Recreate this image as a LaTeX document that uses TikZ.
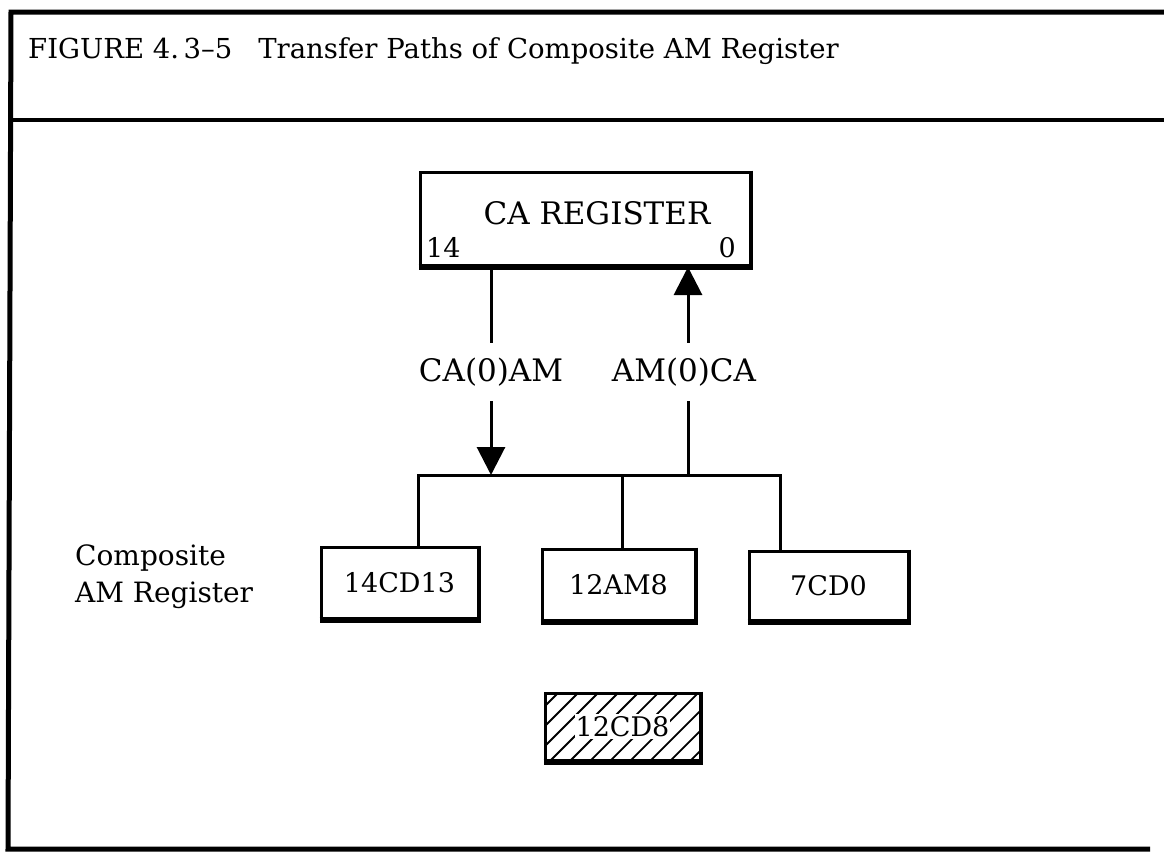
\documentclass[tikz,border=0pt]{standalone}
\usepackage{fontspec}
\setmainfont{DejaVu Serif}
\usetikzlibrary{arrows.meta,calc}
\begin{document}
\begin{tikzpicture}[x=1pt,y=-1pt,line join=miter]
\useasboundingbox (0,0) rectangle (1164,855);
\tikzset{
  regbox/.style={draw,line width=3pt,outer sep=0pt,inner sep=0pt},
  wire/.style={line width=3pt},
  arr/.style={-{Triangle[width=28pt,length=28pt]}},
  txt/.style={font=\fontsize{27}{30}\selectfont,inner sep=0pt},
  bigtxt/.style={font=\fontsize{31}{34}\selectfont,inner sep=0pt},
  hatch/.style={line width=1.8pt},
}
% frame
\draw[line width=5pt] (1164,12) -- (11,12) -- (8,849) -- (1150,849);
\draw[line width=4pt] (10,120) -- (1164,120);
% title
\node[txt,anchor=west,font=\fontsize{27.5}{30}\selectfont] (title) at (28,51) {FIGURE 4.\,3–5\hspace{26pt}Transfer Paths of Composite AM Register};
% CA register
\node[regbox,minimum width=330pt,minimum height=93pt] (ca) at (585,218.5) {};
\node[bigtxt] (catext) at (597,213) {CA REGISTER};
\node[txt,anchor=south west] (b14) at ([xshift=6pt,yshift=7pt]ca.south west) {14};
\node[txt,anchor=south east] (b0) at ([xshift=-14pt,yshift=7pt]ca.south east) {0};
% labels
\node[bigtxt,minimum height=58pt] (l1) at (491,372) {CA(0)AM};
\node[bigtxt,minimum height=58pt] (l2) at (684,372) {AM(0)CA};
\coordinate (xl) at (491,0);
\coordinate (xr) at (688,0);
% bus coordinates
\coordinate (d1) at (418,475);
\coordinate (d2) at (622,475);
\coordinate (d3) at (780,475);
% AM boxes
\node[regbox,minimum width=157pt,minimum height=71pt] (m1) at (399.5,582.5) {};
\node[txt] (m1t) at (m1) {14CD13};
\node[regbox,minimum width=153pt,minimum height=71pt] (m2) at (618.5,584.5) {};
\node[txt] (m2t) at (m2) {12AM8};
\node[regbox,minimum width=159pt,minimum height=69pt] (m3) at (828.5,585.5) {};
\node[txt] (m3t) at (m3) {7CD0};
% hatched box
\node[regbox,minimum width=155pt,minimum height=67pt] (h) at (622.5,726.5) {};
\begin{scope}
  \clip (h.south west) rectangle (h.north east);
  \foreach \k in {0,...,12}
    \draw[hatch] ($(h.south west)+(\k*20-80,6)$) -- ++(90,-90);
\end{scope}
\draw[line width=3pt] (h.south west) rectangle (h.north east);
\node[txt,fill=white,inner xsep=1pt,inner ysep=2pt] (ht) at (h) {12CD8};
% shadows (thick bottom/right edges)
\foreach \n in {ca,m1,m2,m3,h}{
  \draw[line width=6.5pt] ([xshift=-1.5pt,yshift=-1.75pt]\n.south west) -- ([xshift=3pt,yshift=-1.75pt]\n.south east);
  \draw[line width=4.5pt] ([xshift=0.75pt,yshift=1.5pt]\n.north east) -- ([xshift=0.75pt]\n.south east);
}
% composite label
\node[txt,align=left,anchor=west,font=\fontsize{28}{37}\selectfont] (comp) at (75,577) {Composite\\AM Register};
% connectors
\draw[wire] (ca.south -| xl) -- (l1.north -| xl);
\draw[wire,arr] (l1.south -| xl) -- (d1 -| xl);
\draw[wire] (m1.north -| d1) -- (d1) -- (d3) -- (m3.north -| d3);
\draw[wire] (d2) -- (m2.north -| d2);
\draw[wire] (d1 -| xr) -- (l2.south -| xr);
\draw[wire,arr] (l2.north -| xr) -- ([yshift=-2pt]ca.south -| xr);
\end{tikzpicture}
\end{document}
